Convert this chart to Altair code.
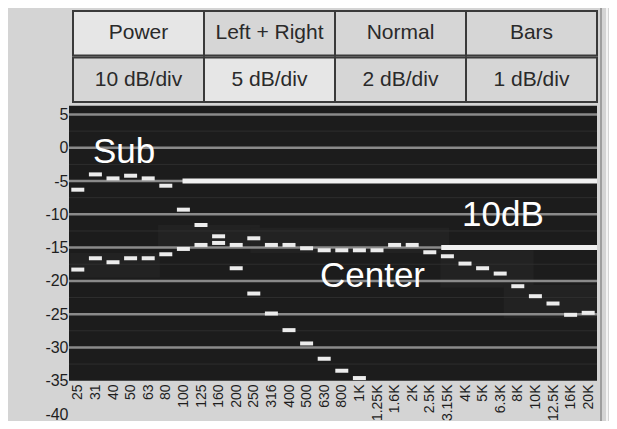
import altair as alt
import pandas as pd

# ---------------- data ----------------
bands = ["25", "31", "40", "50", "63", "80", "100", "125", "160", "200",
         "250", "316", "400", "500", "630", "800", "1K", "1.25K", "1.6K", "2K",
         "2.5K", "3.15K", "4K", "5K", "6.3K", "8K", "10K", "12.5K", "16K", "20K"]

sub_db = [-6.3, -4.0, -4.6, -4.2, -4.6, -5.7, -9.3, -11.6, -13.3, -18.1,
          -21.9, -24.9, -27.4, -29.4, -31.7, -33.5, -34.6, None, None, None,
          None, None, None, None, None, None, None, None, None, None]

center_db = [-18.3, -16.6, -17.2, -16.6, -16.6, -16.0, -15.2, -14.6, -14.3, -14.6,
             -13.6, -14.6, -14.6, -15.1, -15.4, -15.4, -15.4, -15.4, -14.6, -14.6,
             -15.7, -16.3, -17.4, -18.1, -18.9, -20.8, -22.3, -23.4, -25.1, -24.8]

y_ticks = [5, 0, -5, -10, -15, -20, -25, -30, -35, -40]
grid_db = [5, 0, -5, -10, -15, -20, -25, -30]
half_grid_db = [2.5, -2.5, -7.5, -12.5, -17.5, -22.5, -27.5, -32.5]

# target (reference) lines: series, starting band, level in dB
ref_series = ["Sub", "Center"]
ref_start_band = ["100", "3.15K"]
ref_level = [-5, -15]

# annotations
ann_text = ["Sub", "Center", "10dB"]
ann_band_pos = [0.86, 13.76, 21.83]
ann_db = [-2.3, -20.9, -11.75]

# faint peak-hold residue areas (band index span, dB span)
ghost_x0 = [-0.44, 4.56, 9.8, 20.6, 24.2]
ghost_x1 = [4.67, 10.35, 21.1, 25.9, 29.5]
ghost_y0 = [-15.8, -11.6, -12.0, -15.4, -20.6]
ghost_y1 = [-19.5, -14.9, -15.8, -21.0, -25.6]

# buttons
btn_labels = ["Power", "Left + Right", "Normal", "Bars",
              "10 dB/div", "5 dB/div", "2 dB/div", "1 dB/div"]
btn_col = [0, 1, 2, 3, 0, 1, 2, 3]
btn_row = [0, 0, 0, 0, 1, 1, 1, 1]
btn_state = ["down", "up", "up", "up", "up", "down", "up", "up"]

# display range of the analyser screen
screen_top_db = 6.3
screen_bottom_db = -35

# ---------------- tables ----------------
spec_rows = []
for i, b in enumerate(bands):
    if sub_db[i] is not None:
        spec_rows.append({"idx": i, "series": "Sub", "db": sub_db[i]})
    spec_rows.append({"idx": i, "series": "Center", "db": center_db[i]})
spec_df = pd.DataFrame(spec_rows)

ref_df = pd.DataFrame({
    "series": ref_series,
    "x0": [bands.index(b) - (0.05 if k == 0 else 0.35) for k, b in enumerate(ref_start_band)],
    "x1": [len(bands) - 0.5] * len(ref_series),
    "db": ref_level,
})

W, H = 528, 406
xs = alt.Scale(domain=[-0.5, len(bands) - 0.5], nice=False, zero=False)
ys = alt.Scale(domain=[-40, 21], nice=False, zero=False)

label_js = "[" + ",".join("'" + b + "'" for b in bands) + "][datum.value]"

x_axis = alt.Axis(
    values=list(range(len(bands))), labelExpr=label_js, labelAngle=270,
    labelAlign="right", labelBaseline="middle",
    labelFontSize=14, labelFont="Liberation Sans", labelColor="#1e1e1e",
    labelOverlap=False, labelFlush=False, labelPadding=3,
    ticks=False, domain=False, grid=False, offset=-33, title=None)
y_axis = alt.Axis(
    values=y_ticks, labelExpr="datum.value + ''",
    labelFontSize=16, labelFont="Liberation Sans", labelColor="#1e1e1e",
    labelPadding=1, labelOverlap=False, labelFlush=False,
    ticks=False, domain=False, grid=False, title=None)


def X(field):
    return alt.X(field, scale=xs, axis=x_axis)


def Y(field):
    return alt.Y(field, scale=ys, axis=y_axis)


bg_df = pd.DataFrame({"x0": [-0.5], "x1": [len(bands) - 0.5],
                      "y0": [screen_bottom_db], "y1": [screen_top_db]})

bg = alt.Chart(bg_df).mark_rect(color="#1c1c1c").encode(
    x=X("x0:Q"), x2="x1:Q", y=Y("y0:Q"), y2="y1:Q")

ghost_df = pd.DataFrame({"x0": ghost_x0, "x1": ghost_x1, "y0": ghost_y0, "y1": ghost_y1})
ghost = alt.Chart(ghost_df).mark_rect(color="#222222").encode(
    x=X("x0:Q"), x2="x1:Q", y=Y("y0:Q"), y2="y1:Q")

half_df = pd.DataFrame({"db": half_grid_db, "x0": -0.5, "x1": len(bands) - 0.5})
half = alt.Chart(half_df).mark_rule(color="#2e2e2e", strokeWidth=1).encode(
    x=X("x0:Q"), x2="x1:Q", y=Y("db:Q"))

grid_df = pd.DataFrame({"db": grid_db, "x0": -0.5, "x1": len(bands) - 0.5})
grid = alt.Chart(grid_df).mark_rule(color="#8a8a8a", strokeWidth=2.5).encode(
    x=X("x0:Q"), x2="x1:Q", y=Y("db:Q"))

ref = alt.Chart(ref_df).mark_rule(color="#f0f0f0", strokeWidth=5).encode(
    x=X("x0:Q"), x2="x1:Q", y=Y("db:Q"))

dashes = alt.Chart(spec_df).mark_tick(
    orient="horizontal", size=13, thickness=4, color="#ececec", opacity=1).encode(
    x=X("idx:Q"), y=Y("db:Q"))

ann_df = pd.DataFrame({"text": ann_text, "x": ann_band_pos, "db": ann_db})
ann = alt.Chart(ann_df).mark_text(
    align="left", baseline="alphabetic", fontSize=35, font="Liberation Sans",
    color="#ffffff").encode(
    x=X("x:Q"), y=Y("db:Q"), text="text:N")

spectrum = alt.layer(bg, ghost, half, grid, ref, dashes, ann)

# buttons panel with its own scales
btn_df = pd.DataFrame({"label": btn_labels, "col": btn_col, "row": btn_row, "state": btn_state})
bx = alt.Scale(domain=[0, 4], range=[4, 528], nice=False, zero=False)
by = alt.Scale(domain=[0, 2], range=[2, 95], nice=False, zero=False)

btn_rect = alt.Chart(btn_df).transform_calculate(
    c2="datum.col + 1", r0="datum.row + 0.02", r2="datum.row + 0.98"
).mark_rect(stroke="#3a3a3a", strokeWidth=2).encode(
    x=alt.X("col:Q", scale=bx, axis=None), x2="c2:Q",
    y=alt.Y("r0:Q", scale=by, axis=None), y2="r2:Q",
    fill=alt.Fill("state:N", scale=alt.Scale(domain=["up", "down"],
                                             range=["#d6d6d6", "#e6e6e6"]), legend=None))

btn_text = alt.Chart(btn_df).transform_calculate(
    xc="datum.col + 0.5", yc="datum.row + 0.5"
).mark_text(fontSize=21, font="Liberation Sans", color="#2a2a2a",
            align="center", baseline="middle").encode(
    x=alt.X("xc:Q", scale=bx, axis=None),
    y=alt.Y("yc:Q", scale=by, axis=None),
    text="label:N")

# window frame at the right edge
frame = alt.Chart(pd.DataFrame({"k": [0]})).mark_rule(color="#8c8c8c", strokeWidth=1.5).encode(
    x=alt.value(532), y=alt.value(-8), y2=alt.value(H + 7))
frame2 = alt.Chart(pd.DataFrame({"k": [0]})).mark_rule(color="#f4f4f4", strokeWidth=2).encode(
    x=alt.value(538), y=alt.value(-8), y2=alt.value(H + 7))

buttons = alt.layer(btn_rect, btn_text, frame, frame2)

chart = alt.layer(spectrum, buttons).resolve_scale(
    x="independent", y="independent"
).properties(
    width=W, height=H,
    background="#d4d4d4",
    padding={"left": 61, "top": 0, "right": 12, "bottom": 7},
    autosize=alt.AutoSizeParams(type="none"),
).configure_view(stroke=None)

chart.save("out.html", embed_options={"renderer": "svg", "actions": False})
